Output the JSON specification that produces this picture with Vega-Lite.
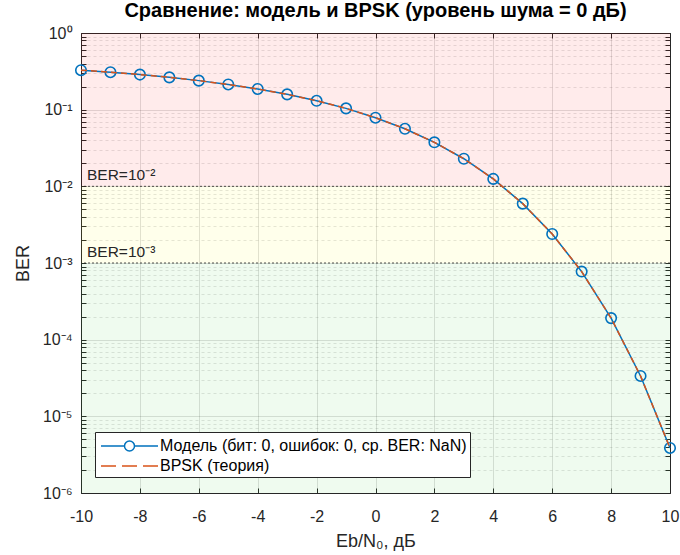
{
  "$schema": "https://vega.github.io/schema/vega-lite/v6.json",
  "width": 589,
  "height": 460,
  "autosize": {"type": "none"},
  "padding": {"left": 81, "top": 33, "right": 10, "bottom": 62},
  "title": {"text": "Сравнение: модель и BPSK (уровень шума = 0 дБ)", "fontSize": 20, "fontWeight": "bold", "font": "Liberation Sans", "color": "#000000", "anchor": "middle", "offset": 4},
  "config": {
    "font": "Liberation Sans",
    "view": {"stroke": "#262626", "strokeWidth": 1},
    "axis": {"labelFont": "Liberation Sans", "titleFont": "Liberation Sans", "labelColor": "#262626", "titleColor": "#262626", "tickColor": "#262626", "domain": false}
  },
  "resolve": {"axis": {"x": "independent", "y": "independent"}},
  "datasets": {
    "bands": [
      {"band": "high", "lo": 0.01, "hi": 1},
      {"band": "mid", "lo": 0.001, "hi": 0.01},
      {"band": "low", "lo": 0.000001, "hi": 0.001}
    ],
    "thresholds": [
      {"v": 0.01, "x": -10, "label": "BER=10⁻²"},
      {"v": 0.001, "x": -10, "label": "BER=10⁻³"}
    ],
    "ber": [
      {"ebn0": -10, "ber": 0.3274},
      {"ebn0": -9, "ber": 0.3079},
      {"ebn0": -8, "ber": 0.2867},
      {"ebn0": -7, "ber": 0.2638},
      {"ebn0": -6, "ber": 0.2392},
      {"ebn0": -5, "ber": 0.2132},
      {"ebn0": -4, "ber": 0.1862},
      {"ebn0": -3, "ber": 0.1584},
      {"ebn0": -2, "ber": 0.1306},
      {"ebn0": -1, "ber": 0.104},
      {"ebn0": 0, "ber": 0.0786},
      {"ebn0": 1, "ber": 0.0563},
      {"ebn0": 2, "ber": 0.0375},
      {"ebn0": 3, "ber": 0.0229},
      {"ebn0": 4, "ber": 0.0125},
      {"ebn0": 5, "ber": 0.00595},
      {"ebn0": 6, "ber": 0.00239},
      {"ebn0": 7, "ber": 0.000773},
      {"ebn0": 8, "ber": 0.000191},
      {"ebn0": 9, "ber": 0.0000336},
      {"ebn0": 10, "ber": 0.00000387}
    ]
  },
  "layer": [
    {
      "data": {"name": "bands"},
      "mark": {"type": "rect", "fillOpacity": 0.08},
      "encoding": {
        "y": {
          "field": "lo", "type": "quantitative",
          "scale": {"type": "log", "domain": [0.000001, 1], "nice": false},
          "axis": {
            "title": "BER", "titleFontSize": 18, "titleFontWeight": "normal", "titlePadding": 10,
            "labelFontSize": 16, "labelPadding": 14, "tickSize": -5,
            "values": [0.000001,0.000002,0.000003,0.000004,0.000005,0.000006,0.000007,0.000008,0.000009,
                       0.00001,0.00002,0.00003,0.00004,0.00005,0.00006,0.00007,0.00008,0.00009,
                       0.0001,0.0002,0.0003,0.0004,0.0005,0.0006,0.0007,0.0008,0.0009,
                       0.001,0.002,0.003,0.004,0.005,0.006,0.007,0.008,0.009,
                       0.01,0.02,0.03,0.04,0.05,0.06,0.07,0.08,0.09,
                       0.1,0.2,0.3,0.4,0.5,0.6,0.7,0.8,0.9,1],
            "labelExpr": "abs(log(datum.value)/LN10 - round(log(datum.value)/LN10)) < 0.001 ? '10' + ['⁰','⁻¹','⁻²','⁻³','⁻⁴','⁻⁵','⁻⁶'][abs(round(log(datum.value)/LN10))] : ''",
            "grid": true,
            "gridColor": "#262626",
            "gridOpacity": {"condition": {"test": "abs(log(datum.value)/LN10 - round(log(datum.value)/LN10)) < 0.001", "value": 0.15}, "value": 0.13},
            "gridDash": {"condition": {"test": "abs(log(datum.value)/LN10 - round(log(datum.value)/LN10)) < 0.001", "value": []}, "value": [3, 3]}
          }
        },
        "y2": {"field": "hi"},
        "fill": {"field": "band", "type": "nominal", "scale": {"domain": ["high", "mid", "low"], "range": ["#ff0000", "#ffff00", "#33cc33"]}, "legend": null}
      }
    },
    {
      "data": {"name": "thresholds"},
      "mark": {"type": "rule", "color": "#262626", "strokeDash": [2, 2], "strokeWidth": 1, "opacity": 0.8},
      "encoding": {"y": {"field": "v", "type": "quantitative", "axis": null}}
    },
    {
      "data": {"name": "thresholds"},
      "mark": {"type": "text", "align": "left", "baseline": "bottom", "dx": 6, "dy": -3, "fontSize": 15.5, "color": "#262626", "font": "Liberation Sans"},
      "encoding": {
        "x": {"field": "x", "type": "quantitative", "axis": null},
        "y": {"field": "v", "type": "quantitative", "axis": null},
        "text": {"field": "label"}
      }
    },
    {
      "data": {"name": "ber"},
      "mark": {"type": "line", "strokeWidth": 1.5},
      "encoding": {
        "x": {
          "field": "ebn0", "type": "quantitative",
          "scale": {"domain": [-10, 10], "nice": false, "zero": false},
          "axis": {"title": "Eb/N₀, дБ", "titleFontSize": 18, "titleFontWeight": "normal", "titlePadding": 8,
                   "labelFontSize": 16, "labelPadding": 20, "tickSize": -5, "labelFlush": false, "values": [-10,-8,-6,-4,-2,0,2,4,6,8,10],
                   "labelExpr": "'' + datum.value",
                   "grid": true, "gridColor": "#262626", "gridOpacity": 0.15}
        },
        "y": {"field": "ber", "type": "quantitative", "axis": null},
        "color": {
          "datum": "Модель (бит: 0, ошибок: 0, ср. BER: NaN)",
          "type": "nominal",
          "scale": {"domain": ["Модель (бит: 0, ошибок: 0, ср. BER: NaN)", "BPSK (теория)"], "range": ["#0072BD", "#D95319"]},
          "legend": {
            "orient": "none", "legendX": 14, "legendY": 399, "title": null,
            "strokeColor": "#262626", "fillColor": "#ffffff", "padding": 3,
            "labelFontSize": 16, "labelColor": "#000000", "labelFont": "Liberation Sans", "labelLimit": 450,
            "symbolSize": 400, "labelOffset": 40, "rowPadding": 1,
            "encode": {
              "symbols": {
                "update": {
                  "shape": {"signal": "datum.value === 'BPSK (теория)' ? 'M-0.8,0H0.7M1.3,0H2.8M3.4,0H4.9' : 'M-0.8,0H1.55M2.55,0H4.9M2.55,0A0.5,0.5,0,1,1,1.55,0A0.5,0.5,0,1,1,2.55,0'"},
                  "fill": {"value": "transparent"},
                  "strokeWidth": {"value": 1.5},
                  "opacity": {"value": 1}
                }
              }
            }
          }
        }
      }
    },
    {
      "data": {"name": "ber"},
      "mark": {"type": "point", "filled": false, "size": 110, "strokeWidth": 1.6, "opacity": 1},
      "encoding": {
        "x": {"field": "ebn0", "type": "quantitative", "axis": null},
        "y": {"field": "ber", "type": "quantitative", "axis": null},
        "color": {"datum": "Модель (бит: 0, ошибок: 0, ср. BER: NaN)", "type": "nominal"}
      }
    },
    {
      "data": {"name": "ber"},
      "mark": {"type": "line", "strokeWidth": 1.5, "strokeDash": [6, 4]},
      "encoding": {
        "x": {"field": "ebn0", "type": "quantitative", "axis": null},
        "y": {"field": "ber", "type": "quantitative", "axis": null},
        "color": {"datum": "BPSK (теория)", "type": "nominal"}
      }
    },
    {
      "data": {"name": "ber"},
      "mark": {"type": "point", "opacity": 0},
      "encoding": {
        "x": {"field": "ebn0", "type": "quantitative",
              "axis": {"orient": "top", "labels": false, "title": null, "grid": false, "tickSize": -5, "values": [-10,-8,-6,-4,-2,0,2,4,6,8,10]}},
        "y": {"field": "ber", "type": "quantitative",
              "axis": {"orient": "right", "labels": false, "title": null, "grid": false, "tickSize": -5,
                       "values": [0.000001,0.000002,0.000003,0.000004,0.000005,0.000006,0.000007,0.000008,0.000009,
                       0.00001,0.00002,0.00003,0.00004,0.00005,0.00006,0.00007,0.00008,0.00009,
                       0.0001,0.0002,0.0003,0.0004,0.0005,0.0006,0.0007,0.0008,0.0009,
                       0.001,0.002,0.003,0.004,0.005,0.006,0.007,0.008,0.009,
                       0.01,0.02,0.03,0.04,0.05,0.06,0.07,0.08,0.09,
                       0.1,0.2,0.3,0.4,0.5,0.6,0.7,0.8,0.9,1]}}
      }
    }
  ]
}
